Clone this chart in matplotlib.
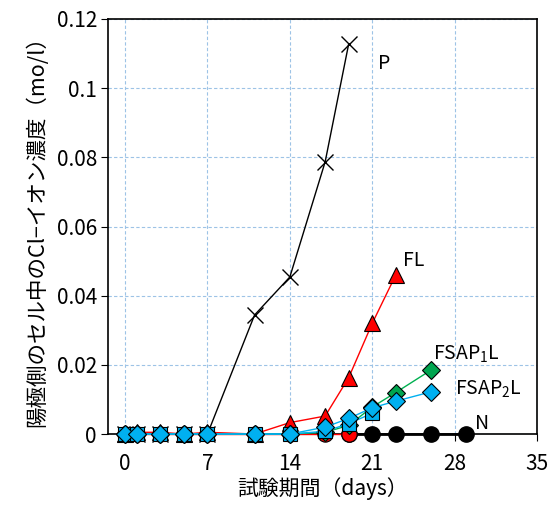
import matplotlib.pyplot as plt

plt.rcParams['font.family'] = ['Noto Sans CJK JP', 'DejaVu Sans']
plt.rcParams['mathtext.fontset'] = 'custom'
plt.rcParams['mathtext.rm'] = 'Noto Sans CJK JP'

# data
days_p = [0, 1, 3, 5, 7, 11, 14, 17, 19]
conc_p = [0, 0, 0, 0, 0, 0.0344, 0.0454, 0.0787, 0.1128]

days_fl = [0, 1, 3, 5, 7, 11, 14, 17, 19, 21, 23]
conc_fl = [0, 0.0005, 0.0005, 0, 0.0005, 0, 0.0033, 0.0052, 0.0163, 0.0320, 0.0460]

days_red = [0, 1, 3, 5, 7, 11, 14, 17, 19]
conc_red = [0, 0, 0, 0, 0, 0, 0, 0, 0]

days_n = [19, 21, 23, 26, 29]
conc_n = [0, 0, 0, 0, 0]

days_f1 = [0, 1, 3, 5, 7, 11, 14, 17, 19, 21, 23, 26]
conc_f1 = [0, 0, 0, 0, 0, 0, 0, 0.0005, 0.0025, 0.0078, 0.0120, 0.0185]

days_sq = [0, 1, 3, 5, 7, 11, 14, 17, 19, 21]
conc_sq = [0, 0, 0, 0, 0, 0, 0, 0.0008, 0.0030, 0.0060]

days_f2 = [0, 1, 3, 5, 7, 11, 14, 17, 19, 21, 23, 26]
conc_f2 = [0, 0, 0, 0, 0, 0, 0, 0.0020, 0.0045, 0.0076, 0.0095, 0.0122]

x_ticks = [0, 7, 14, 21, 28, 35]
y_ticks = [0, 0.02, 0.04, 0.06, 0.08, 0.1, 0.12]
y_tick_labels = ['0', '0.02', '0.04', '0.06', '0.08', '0.1', '0.12']

fig = plt.figure(figsize=(5.55, 5.09), dpi=100)
ax = fig.add_axes([0.1946, 0.1473, 0.7730, 0.8154])

ax.plot(days_p, conc_p, color='black', lw=1, marker='x', ms=11, mew=1,
        zorder=3, clip_on=False)
ax.plot(days_n, conc_n, color='black', lw=2, marker='o', ms=11,
        mfc='black', mec='black', zorder=3, clip_on=False)
ax.plot(days_red, conc_red, color='red', lw=1, marker='o', ms=11,
        mfc='red', mec='black', mew=0.8, zorder=3, clip_on=False)
ax.plot(days_fl, conc_fl, color='red', lw=1, marker='^', ms=11,
        mfc='red', mec='black', mew=0.8, zorder=4, clip_on=False)
ax.plot(days_f1, conc_f1, color='#00b050', lw=1, marker='D', ms=9.5,
        mfc='#00a550', mec='black', mew=0.8, zorder=5, clip_on=False)
ax.plot(days_sq, conc_sq, color='#00b0f0', lw=1, marker='s', ms=10,
        mfc='#00b0f0', mec='black', mew=0.8, zorder=5, clip_on=False)
ax.plot(days_f2, conc_f2, color='#00b0f0', lw=1, marker='D', ms=9.5,
        mfc='#00b0f0', mec='black', mew=0.8, zorder=6, clip_on=False)

ax.text(21.5, 0.1055, 'P', fontsize=14)
ax.text(23.6, 0.0485, 'FL', fontsize=14)
ax.text(26.2, 0.0215, 'FSAP$_1$L', fontsize=14)
ax.text(28.0, 0.0115, 'FSAP$_2$L', fontsize=14)
ax.text(29.7, 0.0015, 'N', fontsize=14)

ax.set_xlim(-1.45, 35)
ax.set_ylim(0, 0.12)
ax.set_xticks(x_ticks)
ax.set_yticks(y_ticks)
ax.set_yticklabels(y_tick_labels)
ax.tick_params(labelsize=15, direction='out', length=5)
ax.tick_params(axis='x', pad=9)
ax.tick_params(axis='y', pad=3)
ax.grid(True, color='#9dc3e6', linestyle=(0, (3, 2)), lw=0.8)
ax.set_axisbelow(True)
for s in ax.spines.values():
    s.set_linewidth(1.2)

ax.set_xlabel('試験期間（days）', fontsize=15, labelpad=1)
ax.set_ylabel('陽極側のセル中のCl−イオン濃度（mo/l）', fontsize=15.5, labelpad=6)

fig.savefig('out.png', dpi=100)
